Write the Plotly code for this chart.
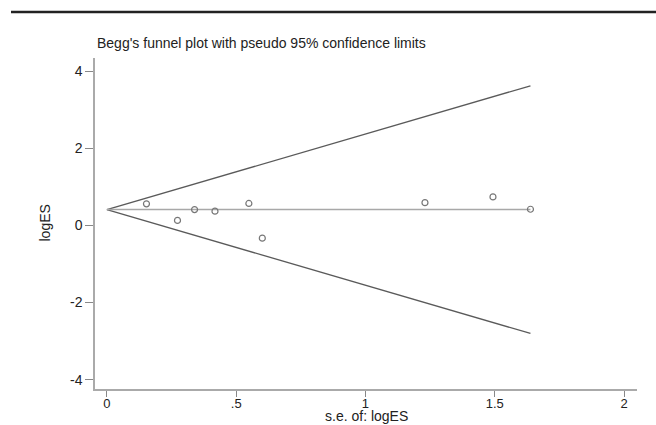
import plotly.graph_objects as go

# Study data: standard error of logES and logES
se = [0.153, 0.273, 0.339, 0.418, 0.549, 0.601, 1.230, 1.493, 1.638]
log_es = [0.56, 0.13, 0.41, 0.37, 0.57, -0.33, 0.59, 0.74, 0.42]

pooled = 0.41
se_max = 1.638
funnel_se = [0, se_max]
upper = [pooled, pooled + 1.96 * se_max]
lower = [pooled, pooled - 1.96 * se_max]
center = [pooled, pooled]

x_ticks = [0, 0.5, 1, 1.5, 2]
x_tick_text = ["0", ".5", "1", "1.5", "2"]
y_ticks = [-4, -2, 0, 2, 4]
y_tick_text = ["-4", "-2", "0", "2", "4"]

font = "Liberation Sans, Arial, sans-serif"
H_PLOT = 425 - 58 - 36  # plot area height in px
AXIS_Y = 425 - 36

fig = go.Figure()
fig.add_trace(go.Scatter(x=funnel_se, y=upper, mode="lines",
                         line=dict(color="#5a5a5a", width=1.3), hoverinfo="skip"))
fig.add_trace(go.Scatter(x=funnel_se, y=lower, mode="lines",
                         line=dict(color="#5a5a5a", width=1.3), hoverinfo="skip"))
fig.add_trace(go.Scatter(x=funnel_se, y=center, mode="lines",
                         line=dict(color="#a8a8a8", width=1.5), hoverinfo="skip"))
fig.add_trace(go.Scatter(x=se, y=log_es, mode="markers",
                         marker=dict(symbol="circle-open", size=6, color="#777777",
                                     line=dict(width=1.2, color="#777777"))))

fig.update_layout(
    width=656, height=425,
    margin=dict(l=95, r=19, t=58, b=36),
    paper_bgcolor="white", plot_bgcolor="white",
    showlegend=False,
    font=dict(family=font, size=13, color="#222222"),
    xaxis=dict(range=[-0.046, 2.05], tickvals=x_ticks, ticktext=x_tick_text,
               showgrid=False, zeroline=False, showline=True, linecolor="#aaaaaa",
               linewidth=1.5, ticks="outside", ticklen=6, tickcolor="#888888",
               tickwidth=1, ticklabelstandoff=-4,
               tickfont=dict(size=13, color="#222222")),
    yaxis=dict(range=[-4.24, 4.34], tickvals=y_ticks, ticktext=y_tick_text,
               showgrid=False, zeroline=False, showline=True, linecolor="#aaaaaa",
               linewidth=1.5, ticks="outside", ticklen=8, tickcolor="#888888",
               tickwidth=1, tickfont=dict(size=14, color="#222222")),
    shapes=[dict(type="line", xref="paper", yref="paper",
                 x0=(11 - 95) / 542, x1=(660 - 95) / 542,
                 y0=(AXIS_Y - 12) / H_PLOT, y1=(AXIS_Y - 12) / H_PLOT,
                 line=dict(color="#222222", width=2.5))],
    annotations=[
        dict(text="Begg's funnel plot with pseudo 95% confidence limits",
             xref="paper", yref="paper", x=0, y=(AXIS_Y - 43) / H_PLOT,
             xanchor="left", yanchor="middle", showarrow=False,
             font=dict(size=14, color="#222222")),
        dict(text="logES", xref="paper", yref="paper", x=(44 - 95) / 542, y=0.5,
             textangle=-90, xanchor="center", yanchor="middle", showarrow=False,
             font=dict(size=14, color="#222222")),
        dict(text="s.e. of: logES", xref="paper", yref="paper", x=0.5,
             y=(AXIS_Y - 425) / H_PLOT, xanchor="center", yanchor="bottom",
             borderpad=0, showarrow=False, font=dict(size=14, color="#222222")),
    ],
)

fig.write_html("out.html")
